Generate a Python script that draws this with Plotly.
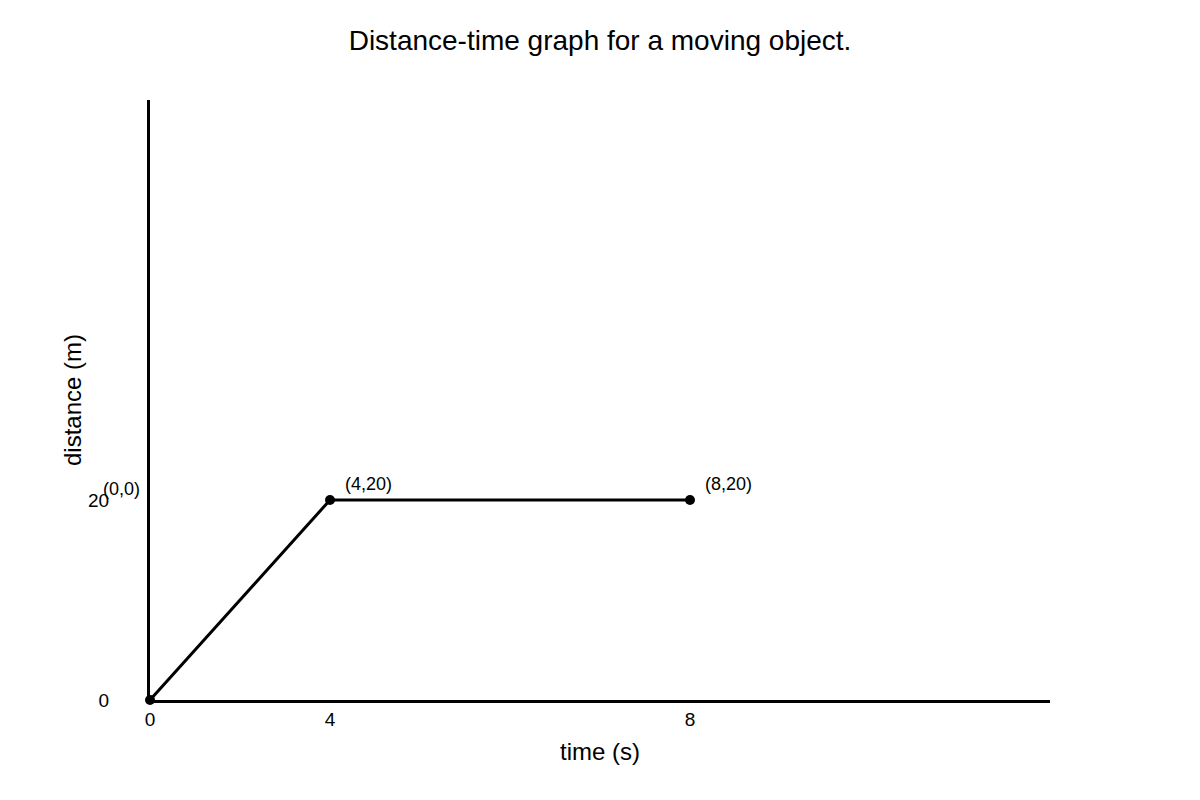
import plotly.graph_objects as go

time_s = ["0", "4", "8"]
distance_m = [0, 20, 20]
point_labels = ["(0,0)", "(4,20)", "(8,20)"]
x_categories = ["0", "4", " ", "8", "  ", "   "]
y_ticks = [0, 20]

fig = go.Figure()
fig.add_trace(go.Scatter(
    x=time_s, y=distance_m, mode="lines+markers",
    line=dict(color="black", width=3),
    marker=dict(color="black", size=10),
    cliponaxis=False,
    showlegend=False, hoverinfo="x+y",
))

label_shifts = [(-29, 211), (38, 16), (38, 16)]
for xv, yv, txt, (dx, dy) in zip(time_s, distance_m, point_labels, label_shifts):
    fig.add_annotation(x=x_categories.index(xv), y=yv, text=txt, showarrow=False,
                       xshift=dx, yshift=dy,
                       font=dict(size=18, color="black", family="Liberation Sans, Arial"))

fig.update_layout(
    width=1200, height=800,
    margin=dict(l=150, r=150, t=100, b=100, autoexpand=False),
    paper_bgcolor="white", plot_bgcolor="white",
    font=dict(family="Liberation Sans, Arial", color="black", size=19),
    title=dict(text="Distance-time graph for a moving object.", x=0.5, xanchor="center",
               y=1 - 40 / 800, yanchor="middle", font=dict(size=28)),
    xaxis=dict(type="category", categoryorder="array", categoryarray=x_categories,
               range=[0, 5], showgrid=False, zeroline=False,
               showline=True, linecolor="black", linewidth=3, automargin=False,
               title=dict(text="time (s)", font=dict(size=24), standoff=15),
               tickfont=dict(size=19)),
    yaxis=dict(range=[0, 60], tickvals=y_ticks, showgrid=False, zeroline=False,
               showline=True, linecolor="black", linewidth=3, automargin=False,
               ticklabelstandoff=34,
               title=dict(text="distance (m)", font=dict(size=24), standoff=0),
               tickfont=dict(size=19)),
)

fig.write_html("out.html", config={"displayModeBar": False},
               post_script="document.body.style.margin='0';")
